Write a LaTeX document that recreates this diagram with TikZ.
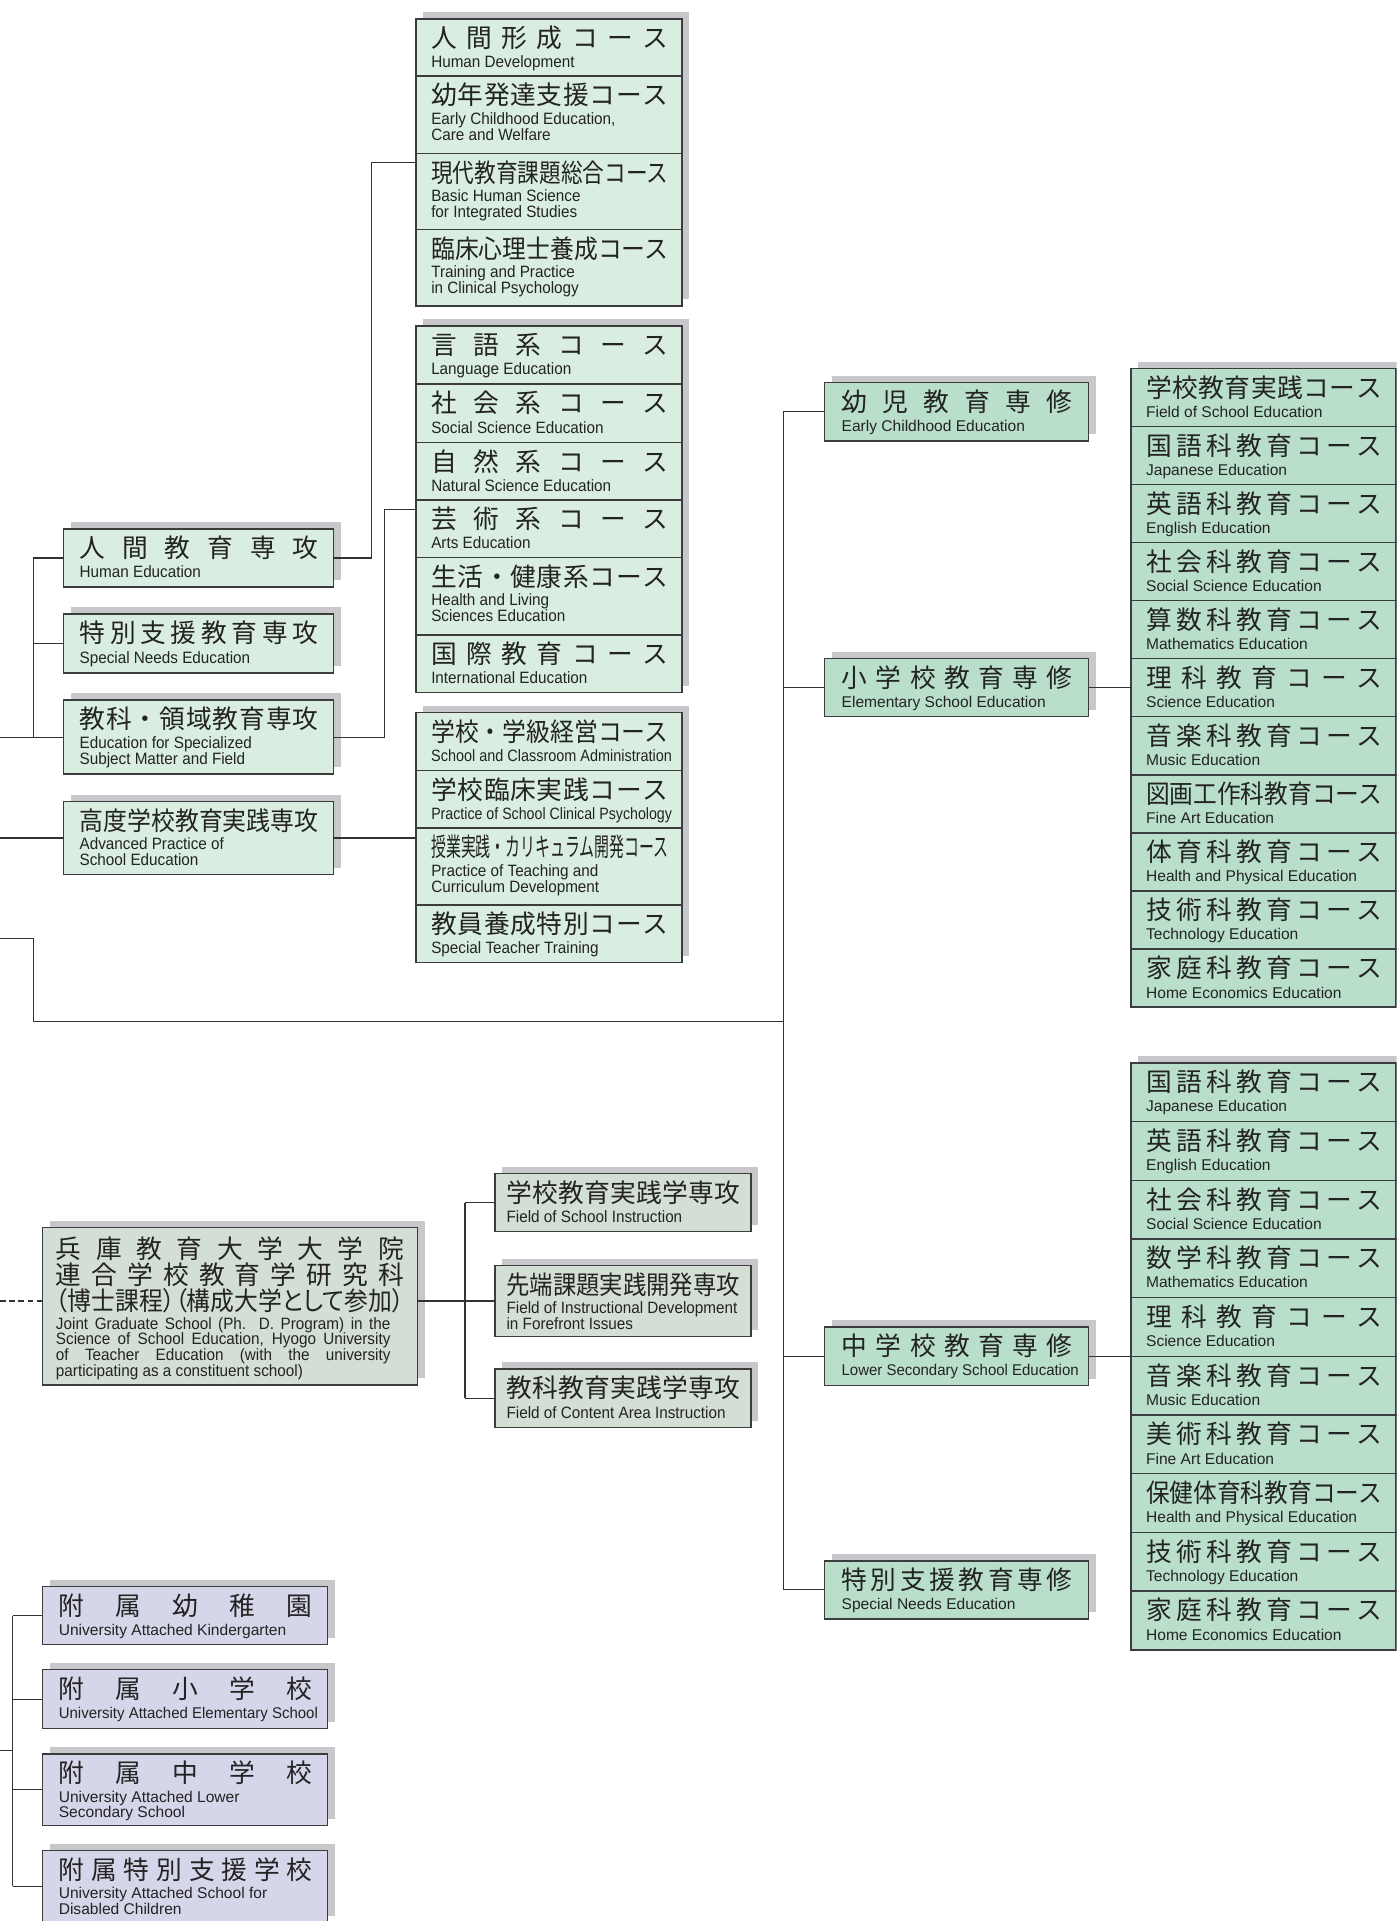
\documentclass[tikz,border=0pt]{standalone}
\usepackage{fontspec}
\usepackage{graphicx}
\newfontfamily\jpf{Noto Sans CJK JP}
\newfontfamily\jpp[RawFeature=+palt]{Noto Sans CJK JP}
\newfontfamily\enf{Liberation Sans}
\newfontfamily\enfc[FakeStretch=0.93]{Liberation Sans}
\definecolor{cl}{RGB}{217,237,224}
\definecolor{cm}{RGB}{185,223,202}
\definecolor{cg}{RGB}{211,222,212}
\definecolor{ca}{RGB}{214,214,234}
\definecolor{shc}{RGB}{200,200,204}
\definecolor{bordc}{RGB}{60,60,60}
\definecolor{linec}{RGB}{50,50,50}
\definecolor{txtc}{RGB}{35,35,35}

\ExplSyntaxOn
\dim_new:N \l_rs_w_dim
\box_new:N \l_rs_box
\tl_new:N \l_rs_tl
\NewDocumentCommand \spread { m m }
 {
  \dim_set:Nn \l_rs_w_dim { #1 }
  \tl_set:Nx \l_rs_tl { #2 }
  \hbox_set:Nn \l_rs_box { \l_rs_tl }
  \dim_compare:nNnTF { \box_wd:N \l_rs_box } > { \l_rs_w_dim }
   { \resizebox { \l_rs_w_dim } { \height } { \box_use:N \l_rs_box } }
   { \makebox [ \l_rs_w_dim ] [ s ] { \tl_map_inline:Nn \l_rs_tl { ##1 \hfill } \unskip } }
 }
\NewDocumentCommand \fitto { m m }
 {
  \dim_set:Nn \l_rs_w_dim { #1 }
  \hbox_set:Nn \l_rs_box { #2 }
  \dim_compare:nNnTF { \box_wd:N \l_rs_box } > { \l_rs_w_dim }
   { \resizebox { \l_rs_w_dim } { \height } { \box_use:N \l_rs_box } }
   { \box_use:N \l_rs_box }
 }
\ExplSyntaxOff

\def\cnd{\def\enk{\enfc\fontsize{13.4}{13}\selectfont}}
\def\reg{\def\enk{\enf\fontsize{12.7}{13}\selectfont}}
\def\kA{\def\kf{cl}\def\ml{12.5}\def\mr{11}\cnd}
\def\kM{\def\kf{cl}\def\ml{13}\def\mr{12}\cnd}
\def\kR{\def\kf{cm}\def\ml{14}\def\mr{13}\reg}
\def\kC{\def\kf{cm}\def\ml{12.5}\def\mr{11.5}\reg}
\def\kG{\def\kf{cg}\def\ml{9.5}\def\mr{9}\cnd}
\def\kT{\def\kf{ca}\def\ml{13.5}\def\mr{12.5}\reg}
\cnd

\tikzset{
  box/.style={draw=bordc, line width=1.2pt, inner sep=0pt, outer sep=0pt, rectangle},
  jpt/.style={inner sep=0pt, outer sep=0pt, text=txtc, font=\jpf\fontsize{21}{21}\selectfont},
  ent/.style={inner sep=0pt, outer sep=0pt, text=txtc, font=\enk},
  conn/.style={draw=linec, line width=1pt},
  shad/.style={fill=shc},
}

\newcommand\shd[4]{\fill[shad] ({#1+6},{#2-5.5}) rectangle ({#1+6+#3},{#2-5.5+#4});}

\newcommand\bx[9]{%
  #2%
  \node[box, fill=\kf, minimum width=#5pt, minimum height=#6pt, anchor=north west] (#1) at (#3,#4) {};
  \node[jpt, anchor=base west] (#1j) at ({#3+\ml},{#4+23.5}) {\spread{#5pt-\ml pt-\mr pt}{#7}};
  \if\relax\detokenize{#9}\relax
    \node[ent, anchor=base west] (#1e) at ({#3+\ml},{#4+40}) {\fitto{#5pt-\ml pt-8pt}{#8}};
  \else
    \node[ent, anchor=base west] (#1e) at ({#3+\ml},{#4+39.3}) {\fitto{#5pt-\ml pt-8pt}{#8}};
    \node[ent, anchor=base west] (#1f) at ({#3+\ml},{#4+52.3}) {\fitto{#5pt-\ml pt-8pt}{#9}};
  \fi
}

\begin{document}
\begin{tikzpicture}[x=1pt,y=-1pt]
\useasboundingbox (0,0) rectangle (1140,1568);
\clip (0,0) rectangle (1140,1568);

% ---------- group A ----------
\shd{339.5}{15.5}{217}{234.2}
\bx{A1}{\kA}{339.5}{15.5}{217}{46.5}{人間形成コース}{Human Development}{}
\bx{A2}{\kA}{339.5}{62}{217}{63.1}{幼年発達支援コース}{Early Childhood Education,}{Care and Welfare}
\bx{A3}{\kA}{339.5}{125.1}{217}{62.1}{現代教育課題総合コース}{Basic Human Science}{for Integrated Studies}
\bx{A4}{\kA}{339.5}{187.2}{217}{62.5}{臨床心理士養成コース}{Training and Practice}{in Clinical Psychology}

% ---------- group B ----------
\shd{339.5}{266}{217}{299.3}
\bx{B1}{\kA}{339.5}{266}{217}{47.5}{言語系コース}{Language Education}{}
\bx{B2}{\kA}{339.5}{313.5}{217}{47.5}{社会系コース}{Social Science Education}{}
\bx{B3}{\kA}{339.5}{361}{217}{47}{自然系コース}{Natural Science Education}{}
\bx{B4}{\kA}{339.5}{408}{217}{47.1}{芸術系コース}{Arts Education}{}
\bx{B5}{\kA}{339.5}{455.1}{217}{63.1}{生活・健康系コース}{Health and Living}{Sciences Education}
\bx{B6}{\kA}{339.5}{518.2}{217}{47.1}{国際教育コース}{International Education}{}

% ---------- group C ----------
\shd{339.5}{581.6}{217}{204}
\bx{C1}{\kA}{339.5}{581.6}{217}{47.3}{学校・学級経営コース}{School and Classroom Administration}{}
\bx{C2}{\kA}{339.5}{628.9}{217}{47.1}{学校臨床実践コース}{Practice of School Clinical Psychology}{}
\bx{C3}{\kA}{339.5}{676}{217}{62.5}{授業実践・カリキュラム開発コース}{Practice of Teaching and}{Curriculum Development}
\bx{C4}{\kA}{339.5}{738.5}{217}{47.1}{教員養成特別コース}{Special Teacher Training}{}

% ---------- left majors ----------
\shd{52}{431.7}{220}{47.6}
\bx{hum}{\kM}{52}{431.7}{220}{47.6}{人間教育専攻}{Human Education}{}
\shd{52}{501.3}{220}{48.2}
\bx{sne}{\kM}{52}{501.3}{220}{48.2}{特別支援教育専攻}{Special Needs Education}{}
\shd{52}{571.5}{220}{60.4}
\bx{edu}{\kM}{52}{571.5}{220}{60.4}{教科・領域教育専攻}{Education for Specialized}{Subject Matter and Field}
\shd{52}{654.2}{220}{59.6}
\bx{adv}{\kM}{52}{654.2}{220}{59.6}{高度学校教育実践専攻}{Advanced Practice of}{School Education}

% ---------- right majors ----------
\shd{673}{312.3}{215.5}{47.7}
\bx{kid}{\kR}{673}{312.3}{215.5}{47.7}{幼児教育専修}{Early Childhood Education}{}
\shd{673}{537.3}{215.5}{47.7}
\bx{ele}{\kR}{673}{537.3}{215.5}{47.7}{小学校教育専修}{Elementary School Education}{}
\shd{673}{1083}{215.5}{48}
\bx{jhs}{\kR}{673}{1083}{215.5}{48}{中学校教育専修}{Lower Secondary School Education}{}
\shd{673}{1274}{215.5}{47.4}
\bx{spn}{\kR}{673}{1274}{215.5}{47.4}{特別支援教育専修}{Special Needs Education}{}

% ---------- right column 1 ----------
\shd{923}{300.6}{216.5}{521.4}
\foreach \jp/\en [count=\i from 0] in {
学校教育実践コース/Field of School Education,
国語科教育コース/Japanese Education,
英語科教育コース/English Education,
社会科教育コース/Social Science Education,
算数科教育コース/Mathematics Education,
理科教育コース/Science Education,
音楽科教育コース/Music Education,
図画工作科教育コース/Fine Art Education,
体育科教育コース/Health and Physical Education,
技術科教育コース/Technology Education,
家庭科教育コース/Home Economics Education}{
  \pgfmathsetmacro\yy{300.6+47.4*\i}
  \bx{ca\i}{\kC}{923}{\yy}{216.5}{47.4}{\jp}{\en}{}
}

% ---------- right column 2 ----------
\shd{923}{867.6}{216.5}{479}
\foreach \jp/\en [count=\i from 0] in {
国語科教育コース/Japanese Education,
英語科教育コース/English Education,
社会科教育コース/Social Science Education,
数学科教育コース/Mathematics Education,
理科教育コース/Science Education,
音楽科教育コース/Music Education,
美術科教育コース/Fine Art Education,
保健体育科教育コース/Health and Physical Education,
技術科教育コース/Technology Education,
家庭科教育コース/Home Economics Education}{
  \pgfmathsetmacro\yy{867.6+47.9*\i}
  \bx{cb\i}{\kC}{923}{\yy}{216.5}{47.9}{\jp}{\en}{}
}

% ---------- graduate school ----------
\cnd
\shd{34.7}{1001.9}{306}{128.4}
\node[box, fill=cg, minimum width=306pt, minimum height=128.4pt, anchor=north west] (grad) at (34.7,1001.9) {};
\node[jpt, anchor=base west] (gradj1) at (45.7,1027.5) {\spread{284pt}{兵庫教育大学大学院}};
\node[jpt, anchor=base west] (gradj2) at (45.7,1048.5) {\spread{284pt}{連合学校教育学研究科}};
\node[jpt, anchor=base west, font=\jpp\fontsize{21}{21}\selectfont] (gradj3) at (45.7,1069.5) {\spread{284pt}{（博士課程）（構成大学として参加）}};
\node[ent, anchor=base west] (grade1) at (45.7,1084.8) {\makebox[273pt][s]{Joint Graduate School (Ph. D. Program) in the}};
\node[ent, anchor=base west] (grade2) at (45.7,1097.7) {\makebox[273pt][s]{Science of School Education, Hyogo University}};
\node[ent, anchor=base west] (grade3) at (45.7,1110.6) {\makebox[273pt][s]{of Teacher Education (with the university}};
\node[ent, anchor=base west] (grade4) at (45.7,1123.4) {participating as a constituent school)};

\shd{404}{958}{209}{47.4}
\bx{G1}{\kG}{404}{958}{209}{47.4}{学校教育実践学専攻}{Field of School Instruction}{}
\shd{404}{1032.9}{209}{58.1}
\bx{G2}{\kG}{404}{1032.9}{209}{58.1}{先端課題実践開発専攻}{Field of Instructional Development}{in Forefront Issues}
\shd{404}{1117.5}{209}{47.8}
\bx{G3}{\kG}{404}{1117.5}{209}{47.8}{教科教育実践学専攻}{Field of Content Area Instruction}{}

% ---------- attached schools ----------
\shd{34.5}{1294.8}{233}{47.7}
\bx{T1}{\kT}{34.5}{1294.8}{233}{47.7}{附属幼稚園}{University Attached Kindergarten}{}
\shd{34.5}{1362.8}{233}{48.2}
\bx{T2}{\kT}{34.5}{1362.8}{233}{48.2}{附属小学校}{University Attached Elementary School}{}
\shd{34.5}{1431.6}{233}{58.3}
\bx{T3}{\kT}{34.5}{1431.6}{233}{58.3}{附属中学校}{University Attached Lower}{Secondary School}
\shd{34.5}{1510.5}{233}{58.5}
\bx{T4}{\kT}{34.5}{1510.5}{233}{58.5}{附属特別支援学校}{University Attached School for}{Disabled Children}

% ---------- connectors ----------
\coordinate (ja) at (303,132.7);
\draw[conn] (hum.east) -| (ja) -- (ja -| A3.west);
\coordinate (jb) at (314,415.6);
\draw[conn] (edu.east) -| (jb) -- (jb -| B4.west);
\draw[conn] (adv.east) -- (adv.east -| C3.west);

\coordinate (lbx) at (27.6,0);
\coordinate (eA) at (0,601.7);
\coordinate (eB) at (0,684);
\draw[conn] (hum.west) -- (hum.west -| lbx) -- (edu.west -| lbx);
\draw[conn] (sne.west) -- (sne.west -| lbx);
\draw[conn] (eA) -- (eA -| edu.west);
\draw[conn] (eB) -- (eB -| adv.west);

\coordinate (eC) at (0,766);
\coordinate (k1) at (27.6,834);
\coordinate (k2) at (639.3,834);
\draw[conn] (eC) -| (k1) -- (k2);
\draw[conn] (kid.west -| k2) -- (spn.west -| k2);
\draw[conn] (kid.west -| k2) -- (kid.west);
\draw[conn] (ele.west -| k2) -- (ele.west);
\draw[conn] (jhs.west -| k2) -- (jhs.west);
\draw[conn] (spn.west -| k2) -- (spn.west);
\draw[conn] (ele.east) -- (ele.east -| ca0.west);
\draw[conn] (jhs.east) -- (jhs.east -| cb0.west);

\coordinate (gy) at (0,1062);
\coordinate (gb) at (379.5,1062);
\draw[conn, dash pattern=on 4.5pt off 3pt] (gy) -- (gy -| grad.west);
\draw[conn] (gy -| grad.east) -- (gb);
\draw[conn] (G1.west -| gb) -- (G3.west -| gb);
\draw[conn] (G1.west -| gb) -- (G1.west);
\draw[conn] (G2.west -| gb) -- (G2.west);
\draw[conn] (G3.west -| gb) -- (G3.west);

\coordinate (tb) at (10.3,1428.6);
\coordinate (eD) at (0,1428.6);
\draw[conn] (eD) -- (tb);
\draw[conn] (T1.west -| tb) -- (T4.west -| tb);
\draw[conn] (T1.west -| tb) -- (T1.west);
\draw[conn] (T2.west -| tb) -- (T2.west);
\draw[conn] (T3.west -| tb) -- (T3.west);
\draw[conn] (T4.west -| tb) -- (T4.west);
\end{tikzpicture}
\end{document}
